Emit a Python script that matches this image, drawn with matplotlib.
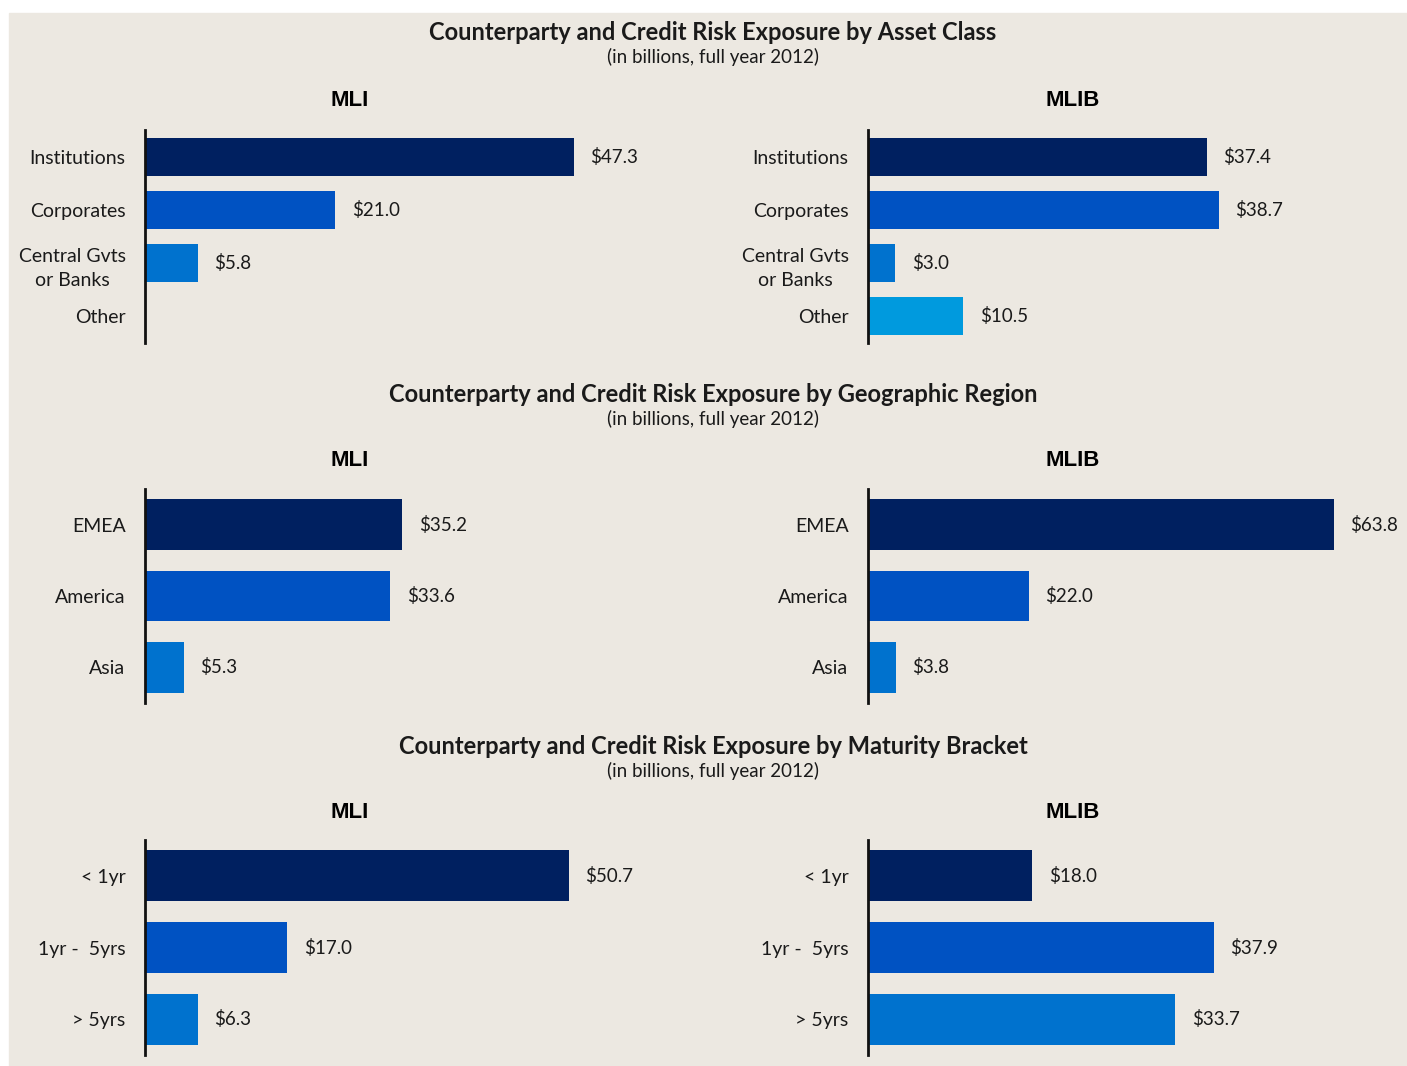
"""Counterparty and credit risk exposure, MLI vs MLIB, full year 2012"""

import matplotlib.pyplot as plt
from matplotlib.patches import Rectangle

# ---- data (billions) ----
asset_cats = ["Institutions", "Corporates", "Central Gvts\nor Banks", "Other"]
asset_mli = [47.3, 21.0, 5.8, 0.0]
asset_mlib = [37.4, 38.7, 3.0, 10.5]

region_cats = ["EMEA", "America", "Asia"]
region_mli = [35.2, 33.6, 5.3]
region_mlib = [63.8, 22.0, 3.8]

maturity_cats = ["< 1yr", "1yr -  5yrs", "> 5yrs"]
maturity_mli = [50.7, 17.0, 6.3]
maturity_mlib = [18.0, 37.9, 33.7]

titles = ["Counterparty and Credit Risk Exposure by Asset Class",
          "Counterparty and Credit Risk Exposure by Geographic Region",
          "Counterparty and Credit Risk Exposure by Maturity Bracket"]
subtitle = "(in billions, full year 2012)"

COLORS = ["#002060", "#0052C2", "#0072CE", "#009ADE"]
TXT = "#1a1a1a"
BG = "#ECE8E1"
FONT = "Lato"

W, H = 1407, 1066
fig = plt.figure(figsize=(W / 100, H / 100), dpi=100)
fig.patch.set_facecolor("white")
fig.patches.append(Rectangle((9 / W, 0), 1 - 9 / W, 1 - 13 / H,
                             transform=fig.transFigure, color=BG, zorder=-5))


def fx(x):
    return x / W


def fy(y):
    return 1 - y / H


def panel(x0, top, bottom, cats, vals, px_per_unit, width=520):
    ax = fig.add_axes([fx(x0), fy(bottom), width / W, (bottom - top) / H])
    ax.set_facecolor("none")
    n = len(cats)
    ax.barh(range(n), vals, height=0.71, color=COLORS[:n], zorder=2)
    ax.set_ylim(n - 0.5, -0.5)
    ax.set_xlim(0, width / px_per_unit)
    for s in ["top", "right", "bottom"]:
        ax.spines[s].set_visible(False)
    ax.spines["left"].set_linewidth(2)
    ax.spines["left"].set_color("#111111")
    ax.spines["left"].set_zorder(3)
    ax.set_xticks([])
    ax.set_yticks(range(n))
    ax.set_yticklabels(cats, fontsize=14, family=FONT, color=TXT,
                       multialignment="center", linespacing=1.55)
    ax.tick_params(axis="y", length=0, pad=14)
    for i, v in enumerate(vals):
        if v > 0:
            ax.annotate("${:.1f}".format(v), xy=(v, i), xytext=(12, 0),
                        textcoords="offset points", va="center", ha="left",
                        fontsize=13.5, family=FONT, color=TXT)
    return ax


sections = [
    (31, 100, 130, 343, asset_cats, asset_mli, asset_mlib, 9.06, 9.06),
    (393, 459, 489, 703, region_cats, region_mli, region_mlib, 7.3, 7.3),
    (745, 811, 840, 1055, maturity_cats, maturity_mli, maturity_mlib, 8.36, 9.12),
]

for title, (ty, py, top, bot, cats, mli, mlib, s1, s2) in zip(titles, sections):
    fig.text(fx(713), fy(ty + 2), title, ha="center", va="center", fontsize=17,
             fontweight="bold", family=FONT, color=TXT)
    fig.text(fx(713), fy(ty + 26), subtitle, ha="center", va="center",
             fontsize=13.5, family=FONT, color=TXT)
    fig.text(fx(350), fy(py + 1), "MLI", ha="center", va="center", fontsize=16,
             fontweight="bold", family="Liberation Sans", color="black")
    fig.text(fx(1073), fy(py + 1), "MLIB", ha="center", va="center", fontsize=16,
             fontweight="bold", family="Liberation Sans", color="black")
    panel(145, top, bot, cats, mli, s1)
    panel(868, top, bot, cats, mlib, s2)

fig.savefig("out.png", dpi=100, facecolor=fig.get_facecolor())
